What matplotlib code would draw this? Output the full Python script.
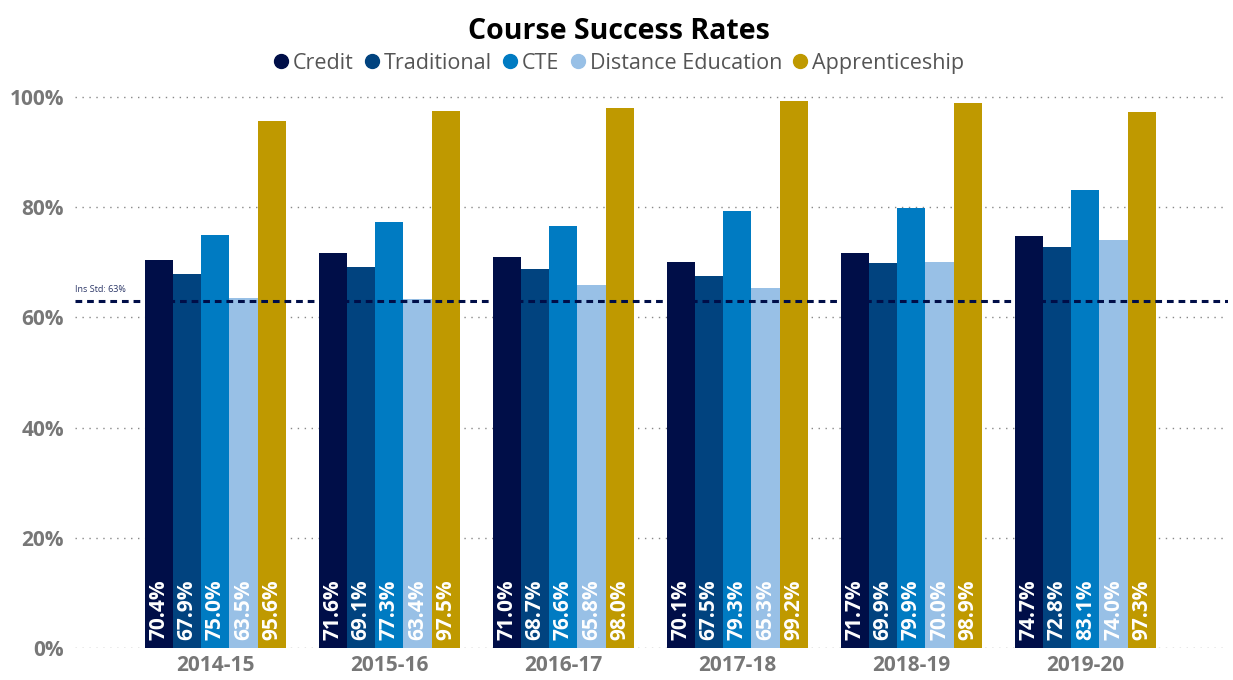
import matplotlib
matplotlib.use("Agg")
import matplotlib.pyplot as plt
import numpy as np

plt.rcParams["font.family"] = ["Open Sans", "DejaVu Sans"]

years = ["2014-15", "2015-16", "2016-17", "2017-18", "2018-19", "2019-20"]
series = ["Credit", "Traditional", "CTE", "Distance Education", "Apprenticeship"]
credit = [70.4, 71.6, 71.0, 70.1, 71.7, 74.7]
traditional = [67.9, 69.1, 68.7, 67.5, 69.9, 72.8]
cte = [75.0, 77.3, 76.6, 79.3, 79.9, 83.1]
distance_ed = [63.5, 63.4, 65.8, 65.3, 70.0, 74.0]
apprenticeship = [95.6, 97.5, 98.0, 99.2, 98.9, 97.3]
ins_std = 63
y_ticks = [0, 20, 40, 60, 80, 100]

colors = ["#000e48", "#01437f", "#007bc2", "#98c0e6", "#bf9900"]
values = [credit, traditional, cte, distance_ed, apprenticeship]

fig = plt.figure(figsize=(12.33, 6.8), dpi=100)
ax = fig.add_axes([0.061, 0.047, 0.935, 0.8186])

x = np.arange(len(years))
width = 0.162
for i, (name, vals, col) in enumerate(zip(series, values, colors)):
    pos = x + (i - 2) * width
    ax.bar(pos, vals, width=width, color=col, label=name, zorder=3)
    for px, v in zip(pos, vals):
        ax.text(px, 1.4, f"{v:.1f}%", rotation=90, ha="center", va="bottom",
                color="white", fontsize=15, fontweight="bold", zorder=4)

# institution-set standard
ax.axhline(ins_std, color="#000e48", linestyle=(0, (2.2, 1.6)), linewidth=2.2, zorder=5)
ax.text(-0.805, ins_std + 1.2, f"Ins Std: {ins_std}%", fontsize=6.5, color="#2a3566",
        ha="left", va="bottom")

ax.set_xlim(-0.805, 5.82)
ax.set_ylim(0, 101)
ax.set_yticks(y_ticks)
ax.set_yticklabels([f"{t}%" for t in y_ticks], fontsize=15, fontweight="bold", color="#777777")
ax.set_xticks(x)
ax.set_xticklabels(years, fontsize=15, fontweight="bold", color="#777777")
ax.tick_params(length=0, pad=5)
ax.tick_params(axis="y", pad=8)
ax.grid(axis="y", linestyle=(0, (1, 4)), color="#888888", linewidth=1, zorder=0)
ax.set_axisbelow(True)
for s in ax.spines.values():
    s.set_visible(False)

handles = [plt.Line2D([], [], marker="o", linestyle="", color=c, markersize=10) for c in colors]
fig.legend(handles, series, loc="center", bbox_to_anchor=(0.502, 0.907), ncol=5, frameon=False,
           fontsize=15.5, handlelength=0.7, handletextpad=0.2, columnspacing=0.5,
           labelcolor="#555555")
fig.suptitle("Course Success Rates", x=0.502, y=0.975, fontsize=20.5, fontweight="bold")

fig.savefig("out.png", dpi=100)
